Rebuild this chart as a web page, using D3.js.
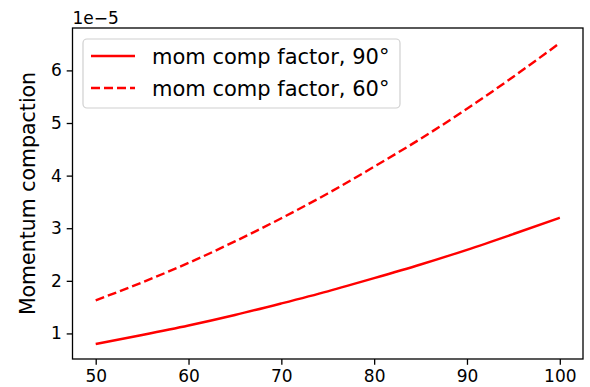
<!DOCTYPE html>
<html>
<head>
<meta charset="utf-8">
<script src="https://cdn.jsdelivr.net/npm/d3@7"></script>
<style>
  body { margin: 0; background: #fff; }
  svg text { font-family: "DejaVu Sans", sans-serif; fill: #000; }
</style>
</head>
<body>
<svg id="chart" width="590" height="387"></svg>
<script>
// beam length values (x axis)
var lengths = [50, 55, 60, 65, 70, 75, 80, 85, 90, 95, 100];
// momentum compaction, in units of 1e-5
var comp90 = [0.80, 0.97, 1.15, 1.35, 1.57, 1.80, 2.05, 2.31, 2.59, 2.89, 3.20];
var comp60 = [1.63, 1.97, 2.34, 2.75, 3.19, 3.66, 4.17, 4.70, 5.27, 5.88, 6.52];
var xTicks = [50, 60, 70, 80, 90, 100];
var yTicks = [1, 2, 3, 4, 5, 6];
var seriesNames = ['mom comp factor, 90\u00b0', 'mom comp factor, 60\u00b0'];

var svg = d3.select('#chart');
var plot = {l: 72.5, t: 28, r: 583, b: 359};

// matplotlib style 5% margins around the data
var xScale = d3.scaleLinear().domain([47.5, 102.5]).range([plot.l, plot.r]);
var yScale = d3.scaleLinear().domain([0.514, 6.806]).range([plot.b, plot.t]);

var series = [
    {name: seriesNames[0], values: comp90, dash: null},
    {name: seriesNames[1], values: comp60, dash: '9,4'}
];

var line = d3.line()
    .x(function(d) { return xScale(d[0]); })
    .y(function(d) { return yScale(d[1]); })
    .curve(d3.curveMonotoneX);

series.forEach(function(s) {
    svg.append('path')
        .datum(lengths.map(function(x, i) { return [x, s.values[i]]; }))
        .attr('d', line)
        .attr('fill', 'none')
        .attr('stroke', '#ff0000')
        .attr('stroke-width', 2.4)
        .attr('stroke-dasharray', s.dash);
});

// axes
var xAxis = d3.axisBottom(xScale).tickValues(xTicks).tickFormat(d3.format('d'))
    .tickSize(5.8).tickPadding(5);
var yAxis = d3.axisLeft(yScale).tickValues(yTicks).tickFormat(d3.format('d'))
    .tickSize(5.8).tickPadding(5);

var gx = svg.append('g').attr('transform', 'translate(0,' + plot.b + ')').call(xAxis);
var gy = svg.append('g').attr('transform', 'translate(' + plot.l + ',0)').call(yAxis);
[gx, gy].forEach(function(g) {
    g.select('.domain').remove();
    g.selectAll('line').attr('stroke', '#000').attr('stroke-width', 1.3);
    g.selectAll('text').attr('font-size', 17).attr('fill', '#000');
});

// frame
svg.append('rect')
    .attr('x', plot.l).attr('y', plot.t)
    .attr('width', plot.r - plot.l).attr('height', plot.b - plot.t)
    .attr('fill', 'none').attr('stroke', '#000').attr('stroke-width', 1.3);

// offset text
svg.append('text').attr('x', plot.l).attr('y', 24)
    .attr('font-size', 17).text('1e\u22125');

// y label
svg.append('text')
    .attr('transform', 'translate(35,' + ((plot.t + plot.b) / 2) + ') rotate(-90)')
    .attr('text-anchor', 'middle')
    .attr('font-size', 20.5)
    .text('Momentum compaction');

// legend
var legend = svg.append('g');
legend.append('rect')
    .attr('x', 83).attr('y', 39).attr('width', 317).attr('height', 69)
    .attr('rx', 4).attr('fill', '#fff').attr('fill-opacity', 0.8)
    .attr('stroke', '#d0d0d0').attr('stroke-width', 1.2);
series.forEach(function(s, i) {
    var y = 56 + i * 32;
    legend.append('line')
        .attr('x1', 91).attr('x2', 135).attr('y1', y).attr('y2', y)
        .attr('stroke', '#ff0000').attr('stroke-width', 2.4)
        .attr('stroke-dasharray', s.dash);
    legend.append('text')
        .attr('x', 152).attr('y', y + 7.5)
        .attr('font-size', 21)
        .text(s.name);
});
</script>
</body>
</html>
